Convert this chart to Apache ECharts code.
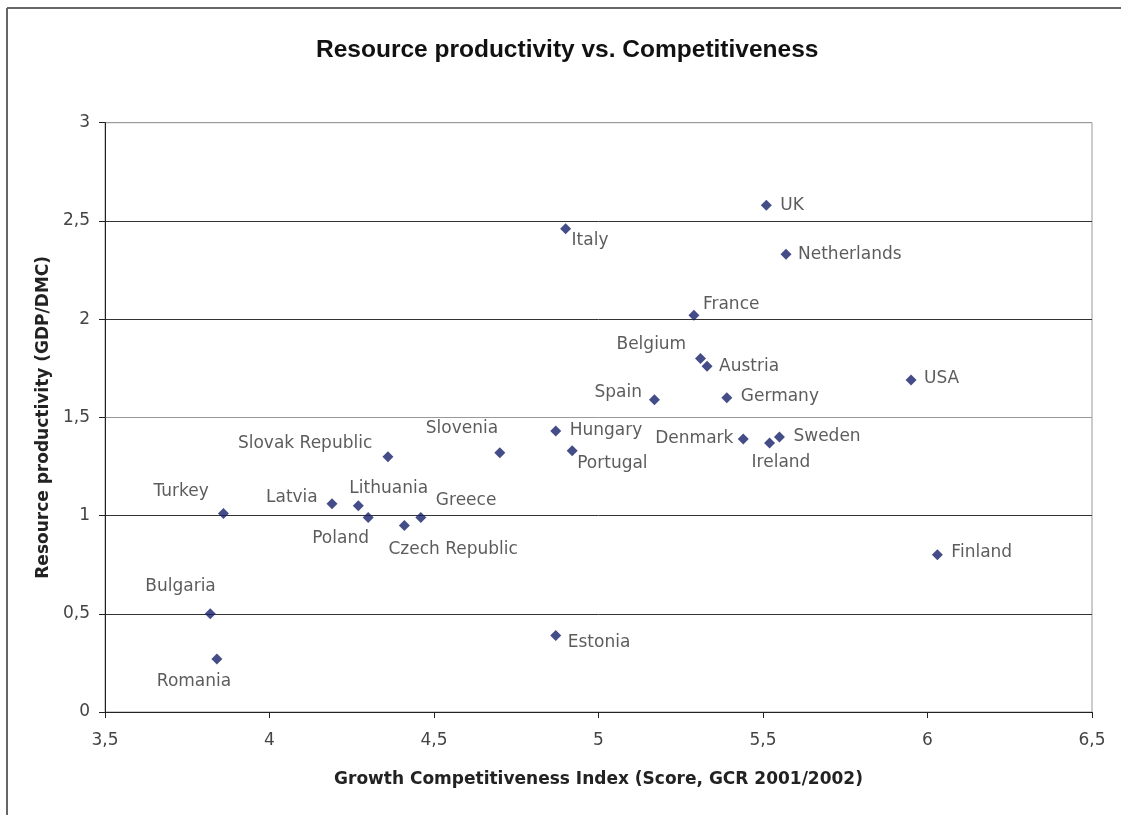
<!DOCTYPE html>
<html>
<head>
<meta charset="utf-8">
<script src="https://cdn.jsdelivr.net/npm/echarts@6/dist/echarts.min.js"></script>
<style>
html,body{margin:0;padding:0;background:#fff;}
#chart{width:1121px;height:815px;}
</style>
</head>
<body>
<div id="chart"></div>
<script>
// ---- data ----
const countries = ["UK","Italy","Netherlands","France","Belgium","Austria","Spain","Germany","USA","Hungary","Portugal","Denmark","Sweden","Ireland","Slovenia","Slovak Republic","Turkey","Latvia","Lithuania","Greece","Poland","Czech Republic","Finland","Bulgaria","Romania","Estonia"];
const competitiveness = [5.51,4.90,5.57,5.29,5.31,5.33,5.17,5.39,5.95,4.87,4.92,5.44,5.55,5.52,4.70,4.36,3.86,4.19,4.27,4.46,4.30,4.41,6.03,3.82,3.84,4.87];
const productivity = [2.58,2.46,2.33,2.02,1.80,1.76,1.59,1.60,1.69,1.43,1.33,1.39,1.40,1.37,1.32,1.30,1.01,1.06,1.05,0.99,0.99,0.95,0.80,0.50,0.27,0.39];
const xTicks = {min:3.5, max:6.5, interval:0.5};
const yTicks = {min:0, max:3, interval:0.5};

// ---- label placement (style, px offset of text left edge / middle from point) ----
const labelOffsets = {
  "UK":[14,0],"Italy":[6,12],"Netherlands":[12,0],"France":[9,-11],"Belgium":[-84,-14],
  "Austria":[12,0],"Spain":[-60,-7],"Germany":[14,-1],"USA":[13,-1],"Hungary":[14,-1],
  "Portugal":[5,13],"Denmark":[-88,0],"Sweden":[14,0],"Ireland":[-18,20],"Slovenia":[-74,-24],
  "Slovak Republic":[-150,-13],"Turkey":[-70,-22],"Latvia":[-66,-6],"Lithuania":[-9,-17],
  "Greece":[15,-17],"Poland":[-56,21],"Czech Republic":[-16,24],"Finland":[14,-2],
  "Bulgaria":[-65,-27],"Romania":[-60,23],"Estonia":[12,7]
};

const fmt = v => String(v).replace('.', ',');

const points = countries.map((c,i)=>({
  name:c,
  value:[competitiveness[i], productivity[i]],
  label:{offset: labelOffsets[c] || [10,0]}
}));

const chart = echarts.init(document.getElementById('chart'), null, {renderer:'canvas'});
chart.setOption({
  backgroundColor:'#fff',
  animation:false,
  title:{
    text:'Resource productivity vs. Competitiveness',
    left:311, top:33,
    textStyle:{fontFamily:'Liberation Sans', fontWeight:'bold', fontSize:24.5, color:'#111'}
  },
  graphic:[
    {type:'line', shape:{x1:7,y1:8,x2:1121,y2:8}, style:{stroke:'#666', lineWidth:2}},
    {type:'line', shape:{x1:7,y1:8,x2:7,y2:815}, style:{stroke:'#666', lineWidth:2}}
  ],
  grid:{left:105, right:29, top:122.7, bottom:103, show:true, borderColor:'#999', borderWidth:1, backgroundColor:'transparent'},
  xAxis:{
    type:'value', min:xTicks.min, max:xTicks.max, interval:xTicks.interval,
    name:'Growth Competitiveness Index (Score, GCR 2001/2002)',
    nameLocation:'middle', nameGap:59,
    nameTextStyle:{fontFamily:'DejaVu Sans', fontWeight:'bold', fontSize:17, color:'#222'},
    axisLine:{show:true, lineStyle:{color:'#222', width:1}},
    axisTick:{show:true, inside:false, length:6, lineStyle:{color:'#222'}},
    axisLabel:{formatter:fmt, fontFamily:'DejaVu Sans', fontSize:17, color:'#444', margin:20},
    splitLine:{show:false}
  },
  yAxis:{
    type:'value', min:yTicks.min, max:yTicks.max, interval:yTicks.interval,
    name:'Resource productivity (GDP/DMC)',
    nameLocation:'middle', nameGap:53, nameRotate:90,
    nameTextStyle:{fontFamily:'DejaVu Sans', fontWeight:'bold', fontSize:17, color:'#222'},
    axisLine:{show:true, lineStyle:{color:'#222', width:1}},
    axisTick:{show:true, inside:false, length:6, lineStyle:{color:'#222'}},
    axisLabel:{formatter:fmt, fontFamily:'DejaVu Sans', fontSize:17, color:'#444', margin:15},
    splitLine:{show:true, lineStyle:{color:['#333','#333','#333','#999','#333','#333','#999'], width:1}}
  },
  series:[{
    type:'scatter',
    symbol:'diamond',
    symbolSize:11,
    itemStyle:{color:'#16216a'},
    data:points,
    label:{
      show:true,
      position:'inside',
      align:'left',
      verticalAlign:'middle',
      formatter:'{b}',
      fontFamily:'DejaVu Sans',
      fontSize:17,
      color:'#333'
    },
    emphasis:{disabled:true}
  }]
});
</script>
</body>
</html>
